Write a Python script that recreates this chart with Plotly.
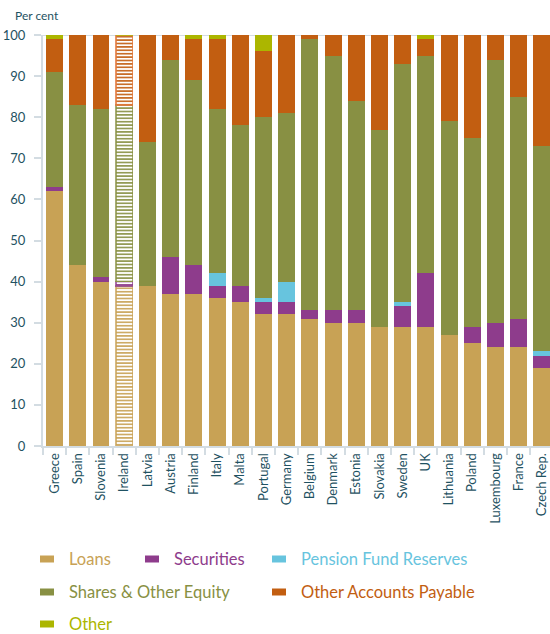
import plotly.graph_objects as go

countries = ["Greece", "Spain", "Slovenia", "Ireland", "Latvia", "Austria", "Finland",
             "Italy", "Malta", "Portugal", "Germany", "Belgium", "Denmark", "Estonia",
             "Slovakia", "Sweden", "UK", "Lithuania", "Poland", "Luxembourg", "France",
             "Czech Rep."]
loans = [62, 44, 40, 39, 39, 37, 37, 36, 35, 32, 32, 31, 30, 30, 29, 29, 29, 27, 25, 24, 24, 19]
securities = [1, 0, 1, 1, 0, 9, 7, 3, 4, 3, 3, 2, 3, 3, 0, 5, 13, 0, 4, 6, 7, 3]
pension = [0, 0, 0, 0, 0, 0, 0, 3, 0, 1, 5, 0, 0, 0, 0, 1, 0, 0, 0, 0, 0, 1]
shares = [28, 39, 41, 43, 35, 48, 45, 40, 39, 44, 41, 66, 62, 51, 48, 58, 53, 52, 46, 64, 54, 50]
other_ap = [8, 17, 18, 17, 26, 6, 10, 17, 22, 16, 19, 1, 5, 16, 23, 7, 4, 21, 25, 6, 15, 27]
other = [1, 0, 0, 0, 0, 0, 1, 1, 0, 4, 0, 0, 0, 0, 0, 0, 1, 0, 0, 0, 0, 0]
highlighted = ["Ireland"]
y_ticks = [0, 10, 20, 30, 40, 50, 60, 70, 80, 90, 100]

series_names = ["Loans", "Securities", "Pension Fund Reserves",
                "Shares & Other Equity", "Other Accounts Payable", "Other"]
series_values = [loans, securities, pension, shares, other_ap, other]
series_colors = ["#C8A255", "#8E3C8C", "#67C4DE", "#889043", "#C25E11", "#ACB600"]
outline_colors = ["rgba(200,162,85,0.75)", "rgba(142,60,140,0.75)", "rgba(103,196,222,0.75)",
                  "rgba(136,144,67,0.75)", "rgba(226,120,60,0.8)", "rgba(172,182,0,0.75)"]

TXT = "#1F5262"
FONT = "Lato"

fig = go.Figure()
for name, vals, col, ocol in zip(series_names, series_values, series_colors, outline_colors):
    is_hl = [c in highlighted for c in countries]
    fig.add_trace(go.Bar(
        x=countries, y=vals, name=name,
        marker=dict(
            color=col,
            line=dict(color=[ocol if h else "rgba(0,0,0,0)" for h in is_hl],
                      width=[1.6 if h else 0 for h in is_hl]),
            pattern=dict(shape=["-" if h else "" for h in is_hl],
                         fillmode="replace", bgcolor="white",
                         size=3.4, solidity=0.45),
        ),
        showlegend=False,
        hoverinfo="x+y+name",
    ))

# plot-area pixel geometry helpers for the manual legend
L, R, T, B = 43, 550, 35, 446
def px(xp):
    return (xp - L) / (R - L)
def py(yp):
    return (B - yp) / (B - T)

legend_pos = [(40, 559), (145, 559), (272, 559), (40, 592), (272, 592), (40, 624)]
shapes = []
annotations = []
for name, col, (lx, ly) in zip(series_names, series_colors, legend_pos):
    shapes.append(dict(type="rect", xref="paper", yref="paper",
                       x0=px(lx), x1=px(lx + 14), y0=py(ly + 3.5), y1=py(ly - 3.5),
                       fillcolor=col, line=dict(width=0), layer="above"))
    annotations.append(dict(xref="paper", yref="paper", x=px(lx + 27), y=py(ly),
                            xanchor="left", yanchor="middle", showarrow=False,
                            text=name, font=dict(family=FONT, size=16.5, color=col)))

annotations.append(dict(xref="paper", yref="paper", x=px(13), y=py(15),
                        xanchor="left", yanchor="middle", showarrow=False,
                        text="Per cent", font=dict(family=FONT, size=12, color=TXT)))

shapes.append(dict(type="line", xref="paper", yref="y", x0=0, x1=1, y0=100, y1=100,
                   line=dict(color="#D3DCE2", width=2), layer="below"))

fig.update_layout(
    barmode="stack",
    bargap=0.27,
    width=550, height=634,
    margin=dict(l=L, r=550 - R, t=T, b=634 - B, pad=0),
    plot_bgcolor="white", paper_bgcolor="white",
    font=dict(family=FONT, color=TXT),
    shapes=shapes,
    annotations=annotations,
    showlegend=False,
)
fig.update_xaxes(
    type="category", range=[-0.5, 21.35],
    tickangle=-90, tickfont=dict(family=FONT, size=13, color=TXT),
    showline=True, linecolor="#D3DCE2", linewidth=2,
    ticks="outside", tickson="boundaries", ticklen=7, tickcolor="#D3DCE2", tickwidth=1.5,
    showgrid=False, fixedrange=True,
)
fig.update_yaxes(
    range=[0, 100], tickvals=y_ticks,
    tickfont=dict(family=FONT, size=13, color=TXT),
    showline=True, linecolor="#D3DCE2", linewidth=2,
    ticks="outside", ticklen=7, tickcolor="#D3DCE2", tickwidth=1.5,
    ticklabelstandoff=6,
    showgrid=False, zeroline=False, fixedrange=True,
)

fig.write_html("out.html", config={"displayModeBar": False},
               post_script="document.body.style.margin='0';document.body.style.overflow='hidden';")
